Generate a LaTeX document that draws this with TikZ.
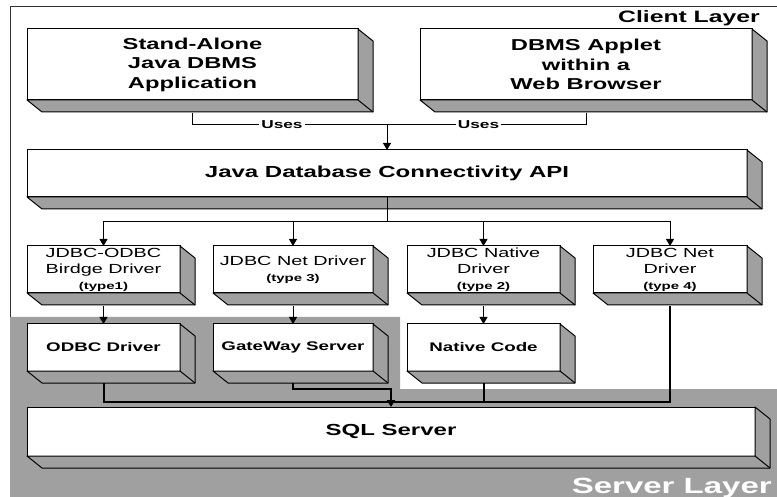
\documentclass[tikz,border=0pt]{standalone}
\usepackage{fontspec}
\setmainfont{Liberation Sans}[FakeStretch=1.5,BoldFeatures={FakeStretch=1.5}]
\usetikzlibrary{arrows.meta}
\definecolor{layergray}{RGB}{160,160,160}
\tikzset{
  box/.style={draw=black, fill=white, line width=1pt, inner sep=0pt, outer sep=0pt, align=center},
  shadowface/.style={draw=black, fill=layergray, line width=1pt, line join=round},
  conn/.style={draw=black, line width=1pt},
  bus/.style={draw=black, line width=2pt},
  tip/.style={-{Triangle[length=7pt,width=8pt]}},
  bigfont/.style={font=\fontsize{15.8}{19.5}\selectfont\bfseries},
  apifont/.style={font=\fontsize{16}{19}\selectfont\bfseries},
  drvfont/.style={font=\fontsize{13.2}{16}\selectfont},
  lowfont/.style={font=\fontsize{12.5}{15}\selectfont\bfseries},
  usesfont/.style={font=\fontsize{11.5}{13}\selectfont\bfseries},
  layerfont/.style={font=\fontsize{16.5}{19}\selectfont\bfseries},
}
\newcommand\typefont{\fontsize{10}{16}\selectfont\bfseries}
\newcommand\extrude[1]{%
  \draw[shadowface] (#1.south west) -- ++(15,12) -- ([shift={(15,12)}]#1.south east)
     -- ([shift={(15,12)}]#1.north east) -- (#1.north east) -- (#1.south east) -- cycle;
  \draw[line width=1pt] (#1.south east) -- ++(15,12);}
\begin{document}
\begin{tikzpicture}[x=1pt,y=-1pt]
\useasboundingbox (0,0) rectangle (777,497);
% layers
\fill[layergray] (10,317) -- (400,317) -- (400,389) -- (777,389) -- (777,497) -- (10,497) -- cycle;
\draw[line width=1pt, black!80] (10,317) -- (10,7) -- (777,7);
\node[layerfont, anchor=base east, inner sep=0pt] (cl) at (760,23) {Client Layer};
\node[font=\fontsize{22}{26}\selectfont\bfseries, text=white, anchor=base east, inner sep=0pt] (sl) at (772,493) {Server Layer};

% top boxes
\node[box, bigfont, minimum width=331pt, minimum height=71pt] (sa) at (192.5,64.5) {Stand-Alone\\Java DBMS\\Application};
\extrude{sa}
\node[box, bigfont, minimum width=332pt, minimum height=71pt] (app) at (586,64.5) {DBMS Applet\\within a\\Web Browser};
\extrude{app}

\node[box, apifont, minimum width=720pt, minimum height=47pt] (api) at (387,173.5) {Java Database Connectivity API};
\extrude{api}

% drivers
\node[box, drvfont, minimum width=153pt, minimum height=47pt] (d1) at (103.5,269.5) {JDBC-ODBC\\Birdge Driver\\{\typefont (type1)}};
\extrude{d1}
\node[box, drvfont, minimum width=160pt, minimum height=47pt] (d2) at (293,269.5) {JDBC Net Driver\\{\typefont (type 3)}};
\extrude{d2}
\node[box, drvfont, minimum width=153pt, minimum height=47pt] (d3) at (483.5,269.5) {JDBC Native\\Driver\\{\typefont (type 2)}};
\extrude{d3}
\node[box, drvfont, minimum width=154pt, minimum height=47pt] (d4) at (670,269.5) {JDBC Net\\Driver\\{\typefont (type 4)}};
\extrude{d4}

% lower boxes
\node[box, lowfont, minimum width=153pt, minimum height=47pt] (odbc) at (103.5,347.5) {ODBC Driver};
\extrude{odbc}
\node[box, lowfont, minimum width=160pt, minimum height=47pt] (gw) at (293,347.5) {GateWay Server};
\extrude{gw}
\node[box, lowfont, minimum width=153pt, minimum height=47pt] (nat) at (483.5,347.5) {Native Code};
\extrude{nat}

\node[box, apifont, minimum width=728pt, minimum height=49pt] (sql) at (391,431.5) {SQL Server};
\extrude{sql}

% connectors top
\coordinate (j1) at (387,125);
\coordinate (j2) at (387,222);
\draw[conn] ([yshift=-13pt]sa.south) |- node[pos=0.73, fill=white, usesfont, inner sep=2pt] (u1) {Uses} (j1);
\draw[conn] ([yshift=-13pt]app.south) |- node[pos=0.77, fill=white, usesfont, inner sep=2pt] (u2) {Uses} (j1);
\draw[conn, tip] (j1) -- (api.north);
\draw[conn] (api.south) -- (j2);
\draw[conn, tip] (j2) -| (d1.north);
\draw[conn, tip] (j2) -| (d2.north);
\draw[conn, tip] (j2) -| (d3.north);
\draw[conn, tip] (j2) -| (d4.north);

\draw[conn, tip] ([yshift=-13pt]d1.south) -- (odbc.north);
\draw[conn, tip] ([yshift=-13pt]d2.south) -- (gw.north);
\draw[conn, tip] ([yshift=-13pt]d3.south) -- (nat.north);

% bus to SQL
\coordinate (busL) at (103.5,402);
\coordinate (busR) at (670,402);
\coordinate (g1) at (391,389);
\draw[bus, line join=miter] ([yshift=-12pt]odbc.south) -- (busL) -- (busR) -- ([yshift=-13pt]d4.south);
\draw[bus] ([yshift=-12pt]nat.south) -- (nat.south |- busL);
\draw[bus, tip, line join=miter] ([yshift=-12pt]gw.south) |- (g1) -- (sql.north);
\end{tikzpicture}
\end{document}
